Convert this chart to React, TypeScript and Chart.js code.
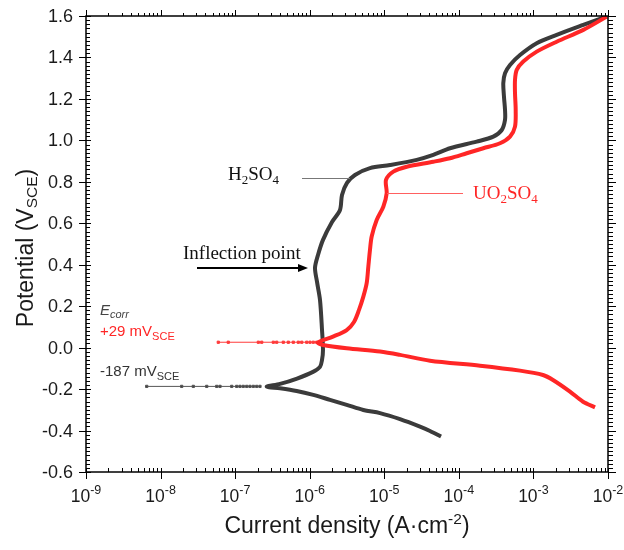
import React, { useEffect, useRef } from "react";
import { Chart, registerables } from "chart.js";

Chart.register(...registerables);

// ---- Data (log10 of current density in A/cm², potential in V vs SCE) ----
const blackLogI = [
  -4.239, -4.387, -4.521, -4.789, -5.057, -5.281, -5.504, -5.728, -5.952, -6.175,
  -6.398, -6.577, -6.398, -6.17, -5.956, -5.862, -5.835, -5.822, -5.835, -5.862,
  -5.902, -5.929, -5.889, -5.822, -5.701, -5.594, -5.567, -5.5, -5.393, -5.192,
  -4.923, -4.565, -4.343, -4.119, -3.761, -3.538, -3.425, -3.381, -3.381, -3.395,
  -3.404, -3.381, -3.314, -3.18, -2.956, -2.688, -2.331, -2.017,
];
const blackPotential = [
  -0.429, -0.402, -0.381, -0.345, -0.316, -0.301, -0.276, -0.252, -0.228, -0.209,
  -0.196, -0.188, -0.175, -0.149, -0.117, -0.093, -0.059, -0.011, 0.085, 0.23,
  0.317, 0.385, 0.447, 0.52, 0.606, 0.664, 0.737, 0.795, 0.833, 0.866,
  0.881, 0.906, 0.93, 0.962, 0.994, 1.018, 1.05, 1.099, 1.147, 1.211,
  1.276, 1.324, 1.364, 1.412, 1.469, 1.509, 1.557, 1.598,
];
const blackEcorrLogI = [
  -8.186, -7.717, -7.561, -7.381, -7.247, -7.203, -7.046, -6.979, -6.935, -6.891,
  -6.845, -6.801, -6.756, -6.711, -6.667,
];
const blackEcorr = -0.187;

const redLogI = [
  -2.174, -2.335, -2.51, -2.738, -2.872, -3.18, -3.716, -4.387, -4.789, -5.057,
  -5.504, -5.822, -5.889, -5.688, -5.504, -5.406, -5.339, -5.281, -5.236, -5.214,
  -5.192, -5.169, -5.102, -5.013, -4.968, -4.977, -4.879, -4.699, -4.343, -4.119,
  -3.895, -3.672, -3.448, -3.314, -3.247, -3.238, -3.247, -3.247, -3.224, -3.136,
  -2.956, -2.688, -2.331, -2.017,
];
const redPotential = [
  -0.288, -0.261, -0.212, -0.156, -0.132, -0.111, -0.087, -0.063, -0.035, -0.019,
  -0.003, 0.013, 0.024, 0.053, 0.085, 0.124, 0.182, 0.246, 0.311, 0.391,
  0.471, 0.536, 0.616, 0.68, 0.745, 0.809, 0.849, 0.873, 0.897, 0.914,
  0.938, 0.962, 0.986, 1.018, 1.066, 1.147, 1.227, 1.292, 1.34, 1.38,
  1.428, 1.476, 1.533, 1.597,
];
const redEcorrLogI = [
  -7.226, -7.092, -6.689, -6.644, -6.488, -6.443, -6.354, -6.287, -6.22, -6.153,
  -6.107, -6.04, -5.996, -5.952, -5.906,
];
const redEcorr = 0.026;

const xDecades = [-9, -8, -7, -6, -5, -4, -3, -2];
const yTicks = [-0.6, -0.4, -0.2, 0.0, 0.2, 0.4, 0.6, 0.8, 1.0, 1.2, 1.4, 1.6];

const BLACK = "#3b3b3b";
const RED = "#ff2626";
const SANS = '"Liberation Sans", Arial, sans-serif';
const SERIF = '"Liberation Serif", "Times New Roman", serif';

type Part = { t: string; size: number; dy?: number; italic?: boolean; color?: string };

function drawParts(
  ctx: CanvasRenderingContext2D,
  parts: Part[],
  x: number,
  y: number,
  align: "left" | "center" | "right",
  color: string,
  family: string
) {
  const fontOf = (p: Part) => `${p.italic ? "italic " : ""}${p.size}px ${family}`;
  let total = 0;
  const widths = parts.map((p) => {
    ctx.font = fontOf(p);
    const w = ctx.measureText(p.t).width;
    total += w;
    return w;
  });
  let cx = align === "left" ? x : align === "center" ? x - total / 2 : x - total;
  ctx.textAlign = "left";
  ctx.textBaseline = "alphabetic";
  parts.forEach((p, i) => {
    ctx.font = fontOf(p);
    ctx.fillStyle = p.color || color;
    ctx.fillText(p.t, cx, y + (p.dy || 0));
    cx += widths[i];
  });
}

const axesPlugin = {
  id: "customAxes",
  afterDraw(chart: any) {
    const ctx: CanvasRenderingContext2D = chart.ctx;
    const { left, right, top, bottom } = chart.chartArea;
    const xs = chart.scales.x;
    const ys = chart.scales.y;
    ctx.save();
    ctx.strokeStyle = "#000";
    ctx.lineWidth = 1.5;
    ctx.strokeRect(left, top, right - left, bottom - top);

    ctx.lineWidth = 1;
    ctx.beginPath();
    // y ticks every 0.02, majors every 0.2
    for (let k = 0; k <= 110; k++) {
      const v = -0.6 + k * 0.02;
      const py = Math.round(ys.getPixelForValue(v)) + 0.5;
      const major = k % 10 === 0;
      if (major) {
        ctx.moveTo(left - 7, py);
        ctx.lineTo(left + 5, py);
        ctx.moveTo(right, py);
        ctx.lineTo(right + 8, py);
      } else {
        ctx.moveTo(left, py);
        ctx.lineTo(left + 4, py);
        ctx.moveTo(right, py);
        ctx.lineTo(right + 5, py);
      }
    }
    // x ticks (log)
    xDecades.forEach((d, i) => {
      const px = Math.round(xs.getPixelForValue(Math.pow(10, d))) + 0.5;
      ctx.moveTo(px, bottom - 4);
      ctx.lineTo(px, bottom + 7);
      ctx.moveTo(px, top);
      ctx.lineTo(px, top - 6);
      if (i < xDecades.length - 1) {
        for (let m = 2; m <= 9; m++) {
          const mx = Math.round(xs.getPixelForValue(m * Math.pow(10, d))) + 0.5;
          ctx.moveTo(mx, bottom);
          ctx.lineTo(mx, bottom - 4);
          ctx.moveTo(mx, top);
          ctx.lineTo(mx, top - 3);
        }
      }
    });
    ctx.stroke();

    // y tick labels
    ctx.fillStyle = "#1a1a1a";
    ctx.font = `18px ${SANS}`;
    ctx.textAlign = "right";
    ctx.textBaseline = "middle";
    yTicks.forEach((v) => {
      ctx.fillText(v.toFixed(1), left - 13, ys.getPixelForValue(v) + 1);
    });

    // x tick labels
    xDecades.forEach((d) => {
      const px = xs.getPixelForValue(Math.pow(10, d));
      drawParts(
        ctx,
        [
          { t: "10", size: 17.5 },
          { t: String(d), size: 12.5, dy: -8 },
        ],
        px,
        502,
        "center",
        "#1a1a1a",
        SANS
      );
    });

    // axis titles
    drawParts(
      ctx,
      [
        { t: "Current density (A·cm", size: 23 },
        { t: "-2", size: 15.5, dy: -9 },
        { t: ")", size: 23 },
      ],
      (left + right) / 2,
      533,
      "center",
      "#1a1a1a",
      SANS
    );
    ctx.save();
    ctx.translate(33, 248);
    ctx.rotate(-Math.PI / 2);
    drawParts(
      ctx,
      [
        { t: "Potential (V", size: 23 },
        { t: "SCE", size: 15.5, dy: 4 },
        { t: ")", size: 23 },
      ],
      0,
      0,
      "center",
      "#1a1a1a",
      SANS
    );
    ctx.restore();

    // annotations
    // H2SO4
    drawParts(
      ctx,
      [
        { t: "H", size: 19 },
        { t: "2", size: 13, dy: 4 },
        { t: "SO", size: 19 },
        { t: "4", size: 13, dy: 4 },
      ],
      228,
      180,
      "left",
      "#111",
      SERIF
    );
    ctx.strokeStyle = "#777";
    ctx.lineWidth = 1;
    ctx.beginPath();
    ctx.moveTo(302, 178.5);
    ctx.lineTo(350, 178.5);
    ctx.stroke();

    // UO2SO4
    drawParts(
      ctx,
      [
        { t: "UO", size: 19 },
        { t: "2", size: 13, dy: 4 },
        { t: "SO", size: 19 },
        { t: "4", size: 13, dy: 4 },
      ],
      473,
      199,
      "left",
      RED,
      SERIF
    );
    ctx.strokeStyle = "#ff6060";
    ctx.beginPath();
    ctx.moveTo(387, 193.5);
    ctx.lineTo(463, 193.5);
    ctx.stroke();

    // Inflection point
    drawParts(ctx, [{ t: "Inflection point", size: 19 }], 183, 259, "left", "#111", SERIF);
    ctx.strokeStyle = "#000";
    ctx.lineWidth = 1.8;
    ctx.beginPath();
    ctx.moveTo(197, 268);
    ctx.lineTo(300, 268);
    ctx.stroke();
    ctx.fillStyle = "#000";
    ctx.beginPath();
    ctx.moveTo(308, 268);
    ctx.lineTo(298, 264);
    ctx.lineTo(298, 272);
    ctx.closePath();
    ctx.fill();

    // Ecorr labels
    drawParts(
      ctx,
      [
        { t: "E", size: 15, italic: true },
        { t: "corr", size: 11, italic: true, dy: 3 },
      ],
      100,
      315,
      "left",
      "#444",
      SANS
    );
    drawParts(
      ctx,
      [
        { t: "+29 mV", size: 15 },
        { t: "SCE", size: 11, dy: 4 },
      ],
      100,
      336,
      "left",
      RED,
      SANS
    );
    drawParts(
      ctx,
      [
        { t: "-187 mV", size: 15 },
        { t: "SCE", size: 11, dy: 4 },
      ],
      100,
      376,
      "left",
      "#333",
      SANS
    );
    ctx.restore();
  },
};

export default function App() {
  const canvasRef = useRef<HTMLCanvasElement | null>(null);

  useEffect(() => {
    const canvas = canvasRef.current;
    if (!canvas) return;
    const toPts = (logs: number[], pots: number[]) =>
      logs.map((l, i) => ({ x: Math.pow(10, l), y: pots[i] }));
    const flat = (logs: number[], pot: number) =>
      logs.map((l) => ({ x: Math.pow(10, l), y: pot }));

    const chart = new Chart(canvas, {
      type: "line",
      data: {
        datasets: [
          {
            label: "UO2SO4",
            data: toPts(redLogI, redPotential),
            borderColor: RED,
            borderWidth: 4,
            pointRadius: 0,
            tension: 0.3,
            order: 0,
          },
          {
            label: "UO2SO4 Ecorr",
            data: flat(redEcorrLogI, redEcorr),
            borderColor: "#ff3b3b",
            backgroundColor: "#ff3b3b",
            borderWidth: 1,
            pointRadius: 1.6,
            pointStyle: "rect",
            tension: 0,
            order: 0,
          },
          {
            label: "H2SO4",
            data: toPts(blackLogI, blackPotential),
            borderColor: BLACK,
            borderWidth: 4,
            pointRadius: 0,
            tension: 0.3,
            order: 1,
          },
          {
            label: "H2SO4 Ecorr",
            data: flat(blackEcorrLogI, blackEcorr),
            borderColor: "#555",
            backgroundColor: "#444",
            borderWidth: 1,
            pointRadius: 1.6,
            pointStyle: "rect",
            tension: 0,
            order: 1,
          },
        ],
      },
      options: {
        responsive: false,
        animation: false,
        devicePixelRatio: 1,
        layout: { padding: { left: 86, top: 16, right: 16, bottom: 78 } },
        plugins: {
          legend: { display: false },
          tooltip: { enabled: false },
        },
        scales: {
          x: { type: "logarithmic", min: 1e-9, max: 1e-2, display: false },
          y: { type: "linear", min: -0.6, max: 1.6, display: false },
        },
      },
      plugins: [axesPlugin],
    });
    return () => chart.destroy();
  }, []);

  return (
    <div style={{ position: "absolute", left: 0, top: 0, width: 624, height: 550, background: "#fff" }}>
      <canvas ref={canvasRef} width={624} height={550} style={{ width: 624, height: 550, display: "block" }} />
    </div>
  );
}
